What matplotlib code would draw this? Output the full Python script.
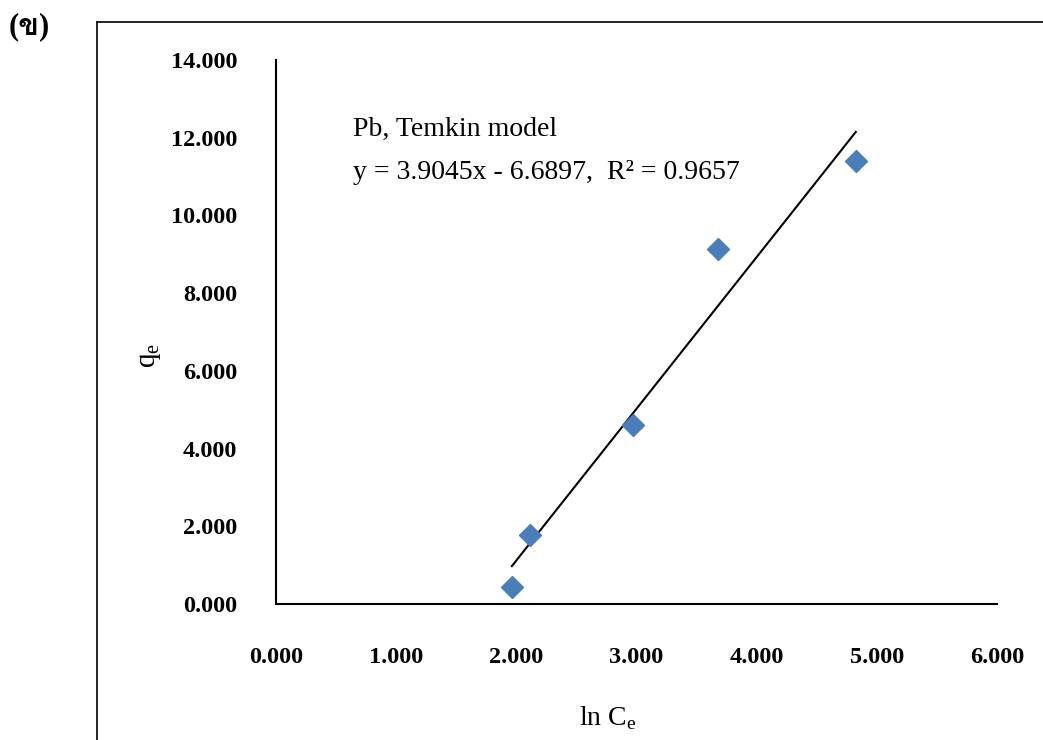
import numpy as np
import matplotlib
matplotlib.use('Agg')
import matplotlib.pyplot as plt
from matplotlib.lines import Line2D
from matplotlib import font_manager
from matplotlib.ft2font import FT2Font

#%%Data
ln_ce = [1.963, 2.113, 2.970, 3.680, 4.825]
qe = [0.44, 1.78, 4.61, 9.14, 11.40]
slope, intercept, r2 = 3.9045, -6.6897, 0.9657
xticks = [0, 1, 2, 3, 4, 5, 6]
yticks = [0, 2, 4, 6, 8, 10, 12, 14]

#%%Find an installed family that has the Thai letter
thai_family = []
for f in font_manager.fontManager.ttflist:
    try:
        if FT2Font(f.fname).get_char_index(0x0E02):
            thai_family = [f.name]
            break
    except Exception:
        pass

#%%Plot
plt.rcParams['font.family'] = ['Liberation Serif', 'DejaVu Sans']
plt.rcParams['mathtext.fontset'] = 'custom'
plt.rcParams['mathtext.rm'] = 'Liberation Serif'

fig = plt.figure(figsize=(10.43, 7.40), dpi=100)
ax = fig.add_axes([0.2646, 0.1838, 0.6913, 0.7351])

ax.plot(ln_ce, qe, 'D', color='#4a7ebb', markersize=11, zorder=3)
xfit = np.array([min(ln_ce), max(ln_ce)])
ax.plot(xfit, slope * xfit + intercept, '-', color='black', lw=1.5, zorder=2)

ax.set_xlim(0, 6)
ax.set_ylim(0, 14)
ax.set_xticks(xticks)
ax.set_yticks(yticks)
ax.set_xticklabels(['%.3f' % v for v in xticks], fontsize=17.5, fontweight='bold')
ax.set_yticklabels(['%.3f' % v for v in yticks], fontsize=17.5, fontweight='bold')
ax.tick_params(axis='x', length=0, pad=31)
ax.tick_params(axis='y', length=0, pad=28)
for s in ['top', 'right']:
    ax.spines[s].set_visible(False)
for s in ['left', 'bottom']:
    ax.spines[s].set_linewidth(1.5)

ax.text(0.64, 12.22, 'Pb, Temkin model', fontsize=20, va='center')
ax.text(0.64, 11.1, 'y = %.4fx - %.4f,  R² = %.4f' % (slope, -intercept, r2),
        fontsize=20, va='center')

fig.text(608 / 1043, 1 - 718 / 740, r'ln C$_\mathregular{e}$', fontsize=20,
         ha='center', va='center')
fig.text(150 / 1043, 1 - 355 / 740, r'q$_\mathregular{e}$', fontsize=21,
         ha='center', va='center', rotation=90)
fig.text(29 / 1043, 1 - 27 / 740, '(ข)', fontsize=22, fontweight='bold',
         ha='center', va='center',
         family=['Liberation Serif'] + thai_family + ['DejaVu Sans'])

#outer frame, clipped at right and bottom edge
fig.add_artist(Line2D([97 / 1043, 97 / 1043], [1 - 22 / 740, -0.1], color='black', lw=1.2))
fig.add_artist(Line2D([97 / 1043, 1.1], [1 - 22 / 740, 1 - 22 / 740], color='black', lw=1.2))

fig.savefig('out.png', dpi=100)
